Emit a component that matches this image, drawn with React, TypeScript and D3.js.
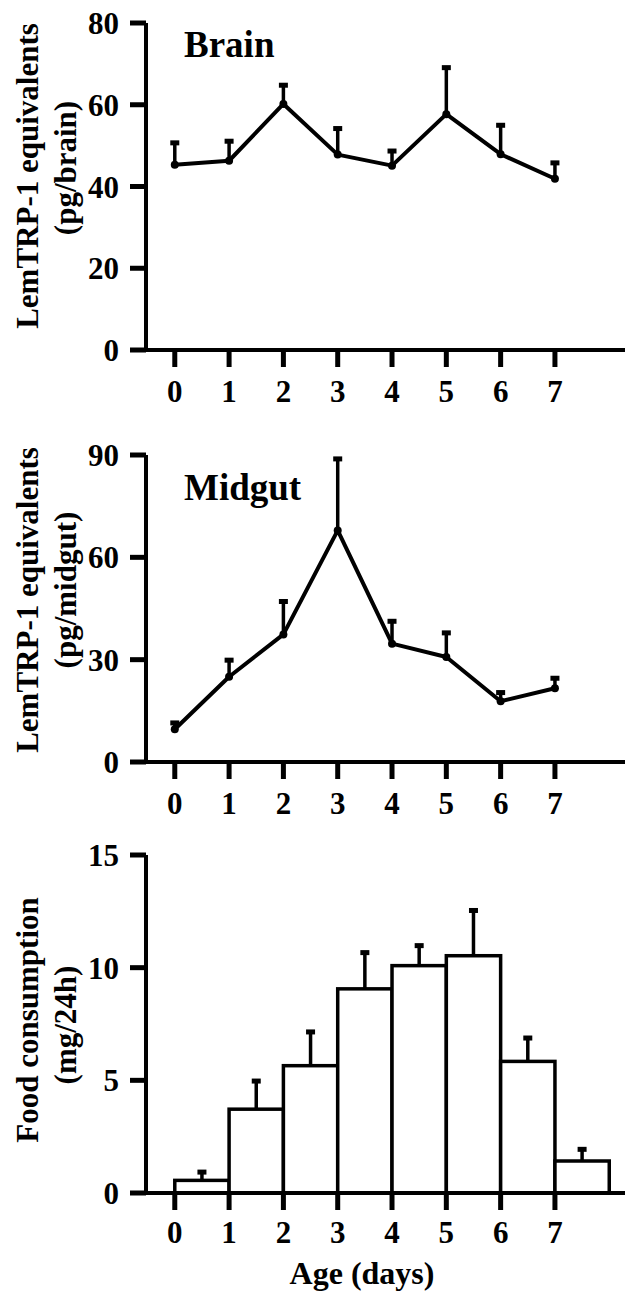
import React from "react";
import * as d3 from "d3";

const days = [0, 1, 2, 3, 4, 5, 6, 7];

const brainMean = [45.3, 46.3, 60.2, 47.8, 45.1, 57.7, 47.9, 41.9];
const brainSem = [5.5, 4.9, 4.7, 6.5, 3.7, 11.5, 7.2, 4.0];
const brainTicks = [0, 20, 40, 60, 80];

const midgutMean = [9.6, 25.0, 37.4, 67.9, 34.7, 30.8, 17.8, 21.6];
const midgutSem = [2.0, 5.0, 9.8, 21.1, 6.7, 7.2, 2.7, 3.1];
const midgutTicks = [0, 30, 60, 90];

const foodMean = [0.56, 3.72, 5.65, 9.06, 10.09, 10.53, 5.84, 1.42];
const foodSem = [0.39, 1.27, 1.52, 1.63, 0.91, 2.03, 1.06, 0.54];
const foodTicks = [0, 5, 10, 15];

const FONT = "'Liberation Serif', 'Times New Roman', serif";

const x = d3.scaleLinear().domain([-0.53, 8.29]).range([146, 625]);

const Num = ({ tx, ty, anchor, children }) => (
  <text x={tx} y={ty} textAnchor={anchor} fontFamily={FONT} fontWeight="bold" fontSize={31}>
    {children}
  </text>
);

const Axes = ({ y, ticks, top, bottom, labelGap }) => (
  <g>
    <line x1={x.range()[0]} x2={x.range()[1]} y1={bottom} y2={bottom} stroke="#000" strokeWidth={4} />
    <line x1={146} x2={146} y1={top} y2={bottom} stroke="#000" strokeWidth={4} />
    {ticks.map((t) => (
      <g key={t}>
        <line x1={130} x2={146} y1={y(t)} y2={y(t)} stroke="#000" strokeWidth={5} />
        <Num tx={119} ty={y(t) + 11} anchor="end">
          {t}
        </Num>
      </g>
    ))}
    {days.map((d) => (
      <g key={d}>
        <line x1={x(d)} x2={x(d)} y1={bottom} y2={bottom + 17} stroke="#000" strokeWidth={5} />
        <Num tx={x(d)} ty={bottom + labelGap} anchor="middle">
          {d}
        </Num>
      </g>
    ))}
  </g>
);

const YLabel = ({ lines, centers }) => (
  <g>
    {lines.map((l, i) => (
      <text
        key={l}
        transform={`translate(${38 + i * 38}, ${centers[i]}) rotate(-90)`}
        textAnchor="middle"
        fontFamily={FONT}
        fontWeight="bold"
        fontSize={31}
      >
        {l}
      </text>
    ))}
  </g>
);

const ErrBar = ({ cx, y0, y1 }) => (
  <g>
    <line x1={cx} x2={cx} y1={y0} y2={y1} stroke="#000" strokeWidth={3.5} />
    <rect x={cx - 4.5} y={y1 - 2} width={9} height={5} fill="#000" />
  </g>
);

const LinePanel = ({ mean, sem, ticks, top, bottom, name, nameY }) => {
  const y = d3.scaleLinear().domain([0, ticks[ticks.length - 1]]).range([bottom, top]);
  const line = d3
    .line()
    .x((d, i) => x(days[i]))
    .y((d) => y(d));
  return (
    <g>
      <Axes y={y} ticks={ticks} top={top} bottom={bottom} labelGap={52} />
      <text x={184} y={nameY} fontFamily={FONT} fontWeight="bold" fontSize={37}>
        {name}
      </text>
      {mean.map((m, i) => (
        <ErrBar key={i} cx={x(days[i])} y0={y(m)} y1={y(m + sem[i])} />
      ))}
      <path d={line(mean)} fill="none" stroke="#000" strokeWidth={4} strokeLinejoin="round" />
      {mean.map((m, i) => (
        <circle key={i} cx={x(days[i])} cy={y(m)} r={4} fill="#000" />
      ))}
    </g>
  );
};

const BarPanel = ({ mean, sem, ticks, top, bottom }) => {
  const y = d3.scaleLinear().domain([0, ticks[ticks.length - 1]]).range([bottom, top]);
  return (
    <g>
      {mean.map((m, i) => (
        <g key={i}>
          <ErrBar cx={x(days[i] + 0.5)} y0={y(m)} y1={y(m + sem[i])} />
          <rect
            x={x(days[i])}
            y={y(m)}
            width={x(days[i] + 1) - x(days[i])}
            height={bottom - y(m)}
            fill="#fff"
            stroke="#000"
            strokeWidth={3.5}
          />
        </g>
      ))}
      <Axes y={y} ticks={ticks} top={top} bottom={bottom} labelGap={50} />
    </g>
  );
};

export default function App() {
  return (
    <svg width={629} height={1300} style={{ position: "absolute", left: 0, top: 0, background: "#fff" }}>
      <LinePanel mean={brainMean} sem={brainSem} ticks={brainTicks} top={23} bottom={350} name="Brain" nameY={57} />
      <YLabel lines={["LemTRP-1 equivalents", "(pg/brain)"]} centers={[176, 168]} />

      <LinePanel mean={midgutMean} sem={midgutSem} ticks={midgutTicks} top={455} bottom={762} name="Midgut" nameY={500} />
      <YLabel lines={["LemTRP-1 equivalents", "(pg/midgut)"]} centers={[600, 590]} />

      <BarPanel mean={foodMean} sem={foodSem} ticks={foodTicks} top={855} bottom={1193} />
      <YLabel lines={["Food consumption", "(mg/24h)"]} centers={[1020, 1025]} />
      <text x={362} y={1284} textAnchor="middle" fontFamily={FONT} fontWeight="bold" fontSize={32}>
        Age (days)
      </text>
    </svg>
  );
}
